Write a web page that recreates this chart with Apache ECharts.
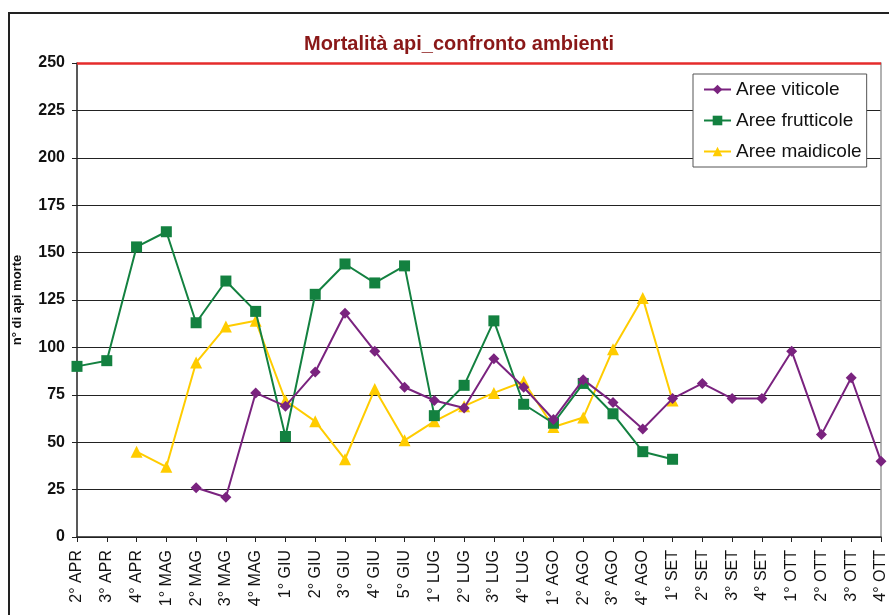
<!DOCTYPE html>
<html>
<head>
<meta charset="utf-8">
<script src="https://cdn.jsdelivr.net/npm/echarts@6/dist/echarts.min.js"></script>
<style>
html,body{margin:0;padding:0;background:#fff;}
#frame{position:absolute;left:8px;top:12px;width:1000px;height:800px;border-left:2px solid #222;border-top:2px solid #222;}
#chart{position:absolute;left:0;top:0;width:889px;height:615px;}
</style>
</head>
<body>
<div id="frame"></div>
<div id="chart"></div>
<script>
const categories = ["2° APR","3° APR","4° APR","1° MAG","2° MAG","3° MAG","4° MAG","1° GIU","2° GIU","3° GIU","4° GIU","5° GIU","1° LUG","2° LUG","3° LUG","4° LUG","1° AGO","2° AGO","3° AGO","4° AGO","1° SET","2° SET","3° SET","4° SET","1° OTT","2° OTT","3° OTT","4° OTT"];
const viticole = [null,null,null,null,26,21,76,69,87,118,98,79,72,68,94,79,62,83,71,57,73,81,73,73,98,54,84,40];
const frutticole = [90,93,153,161,113,135,119,53,128,144,134,143,64,80,114,70,60,81,65,45,41,null,null,null,null,null,null,null];
const maidicole = [null,null,45,37,92,111,114,72,61,41,78,51,61,69,76,82,58,63,99,126,72,null,null,null,null,null,null,null];
const yTicks = {min:0, max:250, interval:25};

const FONT = 'Arial, "Liberation Sans", sans-serif';
const chart = echarts.init(document.getElementById('chart'));
chart.setOption({
  animation:false,
  backgroundColor:'transparent',
  title:{
    text:'Mortalità api_confronto ambienti',
    left:454, top:29, textAlign:'center',
    textStyle:{fontFamily:FONT, fontSize:20, fontWeight:'bold', color:'#8a1818'}
  },
  legend:{
    orient:'vertical', left:693, top:74, width:173,
    padding:[6,5,6,10], itemGap:12, itemWidth:27, itemHeight:12,
    borderColor:'#555', borderWidth:1, backgroundColor:'#fff',
    textStyle:{fontFamily:FONT, fontSize:19, color:'#111', lineHeight:19},
    data:['Aree viticole','Aree frutticole','Aree maidicole']
  },
  grid:{left:77, right:3, top:63, bottom:78, containLabel:false},
  xAxis:{
    type:'category', data:categories, boundaryGap:false,
    axisLine:{lineStyle:{color:'#222', width:1.5}},
    axisTick:{show:true, alignWithLabel:true, length:5, lineStyle:{color:'#222'}},
    axisLabel:{rotate:90, interval:0, margin:13, fontFamily:FONT, fontSize:16, color:'#111'},
    splitLine:{show:false}
  },
  yAxis:[{
    type:'value', min:yTicks.min, max:yTicks.max, interval:yTicks.interval,
    name:'n° di api morte', nameLocation:'middle', nameGap:53,
    nameTextStyle:{fontFamily:FONT, fontSize:13, fontWeight:'bold', color:'#111'},
    axisLine:{show:true, lineStyle:{color:'#222', width:1.5}},
    axisTick:{show:true, length:5, lineStyle:{color:'#222'}},
    axisLabel:{margin:12, fontFamily:FONT, fontSize:16, fontWeight:'bold', color:'#111'},
    splitLine:{show:true, lineStyle:{color:'#222', width:1}}
  },{
    type:'value', min:yTicks.min, max:yTicks.max, interval:yTicks.interval, position:'right',
    axisLine:{show:true, lineStyle:{color:'#999', width:1.5}},
    axisTick:{show:false}, axisLabel:{show:false}, splitLine:{show:false}
  }],
  series:[
    {name:'Aree viticole', type:'line', data:viticole, symbol:'diamond', symbolSize:11,
     color:'#7a237f', lineStyle:{width:2}, connectNulls:false, z:3,
     markLine:{silent:true, symbol:'none', label:{show:false},
       lineStyle:{color:'#e52b2b', width:2.5, type:'solid'}, data:[{yAxis:250}]}},
    {name:'Aree frutticole', type:'line', data:frutticole, symbol:'rect', symbolSize:11,
     color:'#138140', lineStyle:{width:2}, connectNulls:false, z:2},
    {name:'Aree maidicole', type:'line', data:maidicole, symbol:'triangle', symbolSize:12,
     color:'#ffcc00', lineStyle:{width:2}, connectNulls:false, z:1}
  ]
});
</script>
</body>
</html>
